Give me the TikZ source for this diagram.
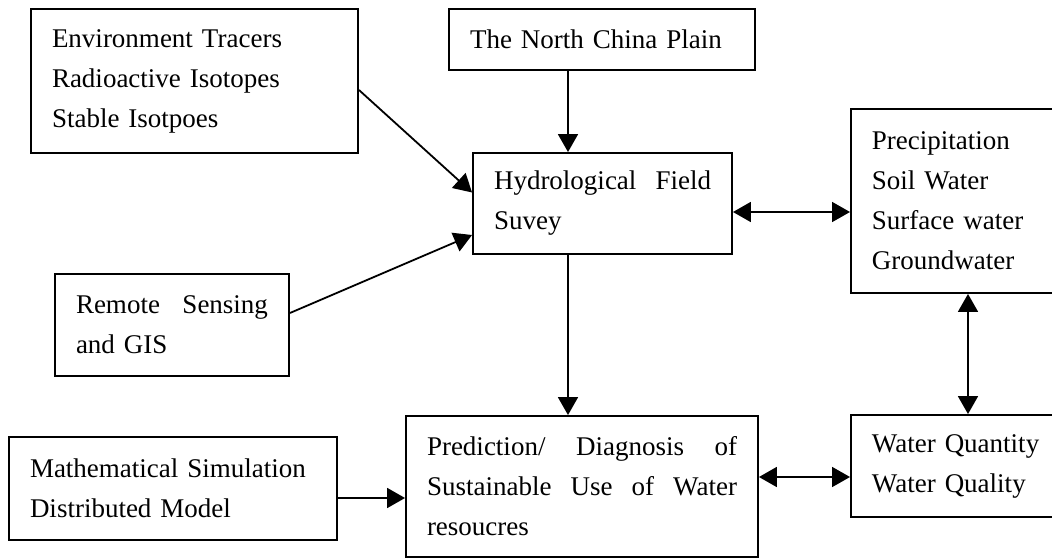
\documentclass[tikz,border=0pt]{standalone}
\usepackage{fontspec}
\setmainfont{Liberation Serif}
\usepackage{tikz}
\usetikzlibrary{arrows.meta,positioning}

\begin{document}
\begin{tikzpicture}[
    % 座標以像素為單位 (y 軸向下)
    x=1pt, y=-1pt,
    % --- 定義節點樣式 ---
    % 長方形方框樣式
    rect/.style={
        rectangle,
        draw=black,
        line width=1.9pt,
        inner xsep=21pt,
        inner ysep=0pt,
        align=left,
        font=\fontsize{27}{40}\selectfont
    },
    % 單向箭頭樣式
    arr/.style={draw, line width=1.8pt, -{Triangle[length=18pt,width=20pt]}},
    % 雙向箭頭樣式
    darr/.style={draw, line width=1.8pt, {Triangle[length=18pt,width=20pt]}-{Triangle[length=18pt,width=20pt]}}
]
\useasboundingbox (0,0) rectangle (1052,559);

% --- 繪製方框 ---
% 左上: 示蹤劑
\node[rect, text width=285pt, minimum height=144pt] (env) at (194.5,81)
    {Environment Tracers\\Radioactive Isotopes\\Stable Isotpoes};
% 研究區
\node[rect, text width=264pt, minimum height=61pt] (plain) at (602,39.5)
    {The North China Plain};
% 野外調查
\node[rect, text width=217pt, minimum height=101pt] (survey) at (602.5,203.5)
    {Hydrological\hfill Field\\Suvey};
% 右上: 水的類型
\node[rect, text width=180pt, minimum height=184pt, anchor=west] (precip) at (850,201)
    {Precipitation\\Soil Water\\Surface water\\Groundwater};
% 遙感
\node[rect, text width=192pt, minimum height=102pt] (remote) at (172,325)
    {Remote\hfill Sensing\\and GIS};
% 模型
\node[rect, text width=286pt, minimum height=103pt] (math) at (173,488.5)
    {Mathematical Simulation\\Distributed Model};
% 預測
\node[rect, text width=310pt, minimum height=141pt] (predict) at (582,486.5)
    {Prediction/\hfill Diagnosis\hfill of\\Sustainable\hfill Use\hfill of\hfill Water\\resoucres};
% 右下: 水量水質
\node[rect, text width=180pt, minimum height=102pt, anchor=west] (water) at (850,466)
    {Water Quantity\\Water Quality};

% --- 繪製箭頭 ---
\coordinate (vmid) at (568,0);
\coordinate (vright) at (968,0);
\draw[arr] (plain.south -| vmid) -- (survey.north -| vmid);
\draw[arr] (survey.south -| vmid) -- (predict.north -| vmid);
\draw[arr] ([yshift=-9pt]env.east) -- ([yshift=11pt]survey.west);
\draw[arr] ([yshift=12pt]remote.east) -- ([yshift=-31.5pt]survey.west);
\draw[arr] ([yshift=-9.5pt]math.east) -- ([yshift=-9.5pt]math.east -| predict.west);
\draw[darr] ([yshift=-8.5pt]survey.east) -- ([yshift=-8.5pt]survey.east -| precip.west);
\draw[darr] ([yshift=-11pt]water.west) -- ([yshift=-11pt]water.west -| predict.east);
\draw[darr] (precip.south -| vright) -- (water.north -| vright);

\end{tikzpicture}
\end{document}
